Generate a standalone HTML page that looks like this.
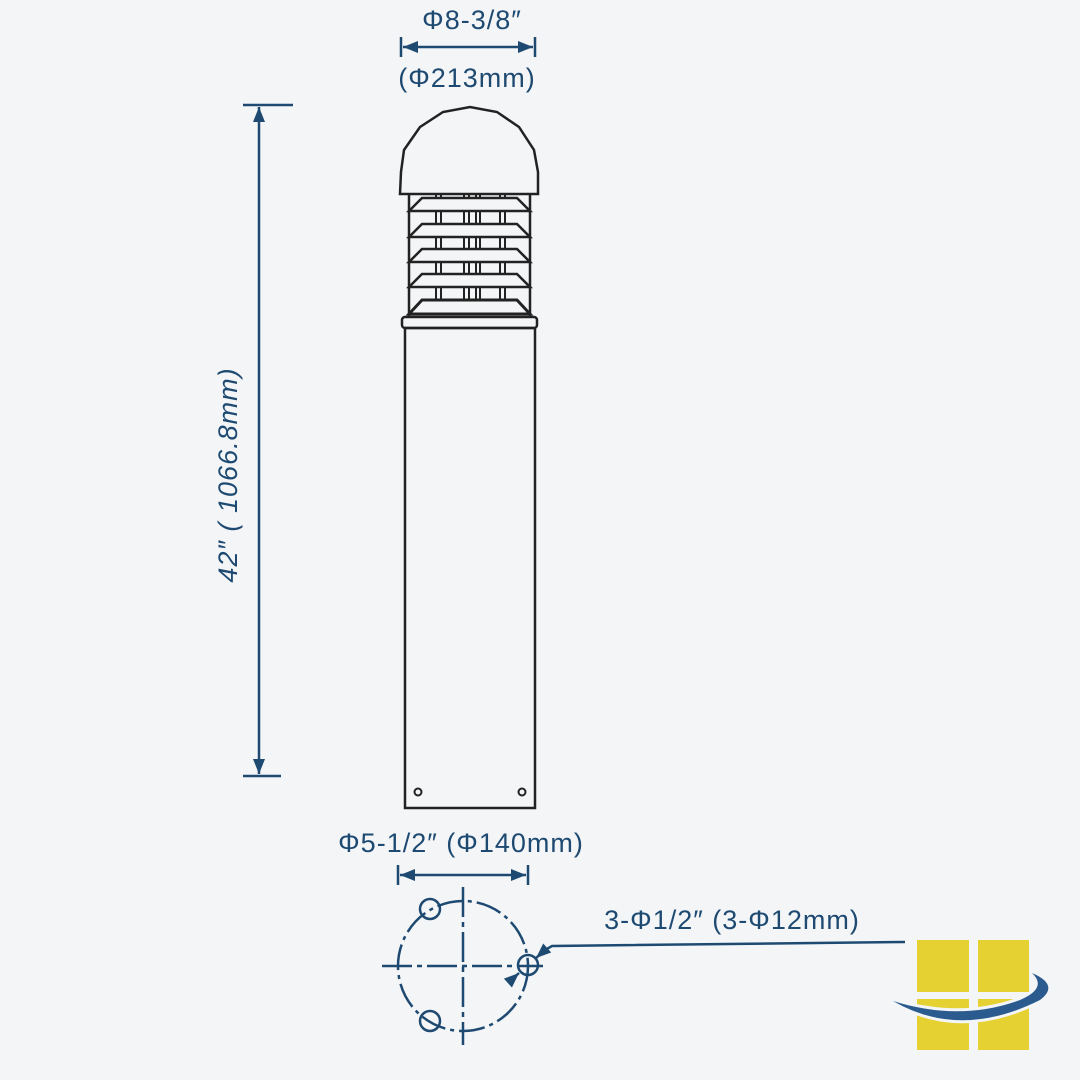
<!DOCTYPE html><html><head><style>body{margin:0;background:#f3f5f7}svg{display:block}text{font-family:"Liberation Sans",sans-serif;fill:#1e4a72;letter-spacing:1px}</style></head><body>
<svg width="1080" height="1080" viewBox="0 0 1080 1080">
<rect width="1080" height="1080" fill="#f3f5f7"/>
<defs><marker id="a" viewBox="0 0 10 10" refX="10" refY="5" markerWidth="9" markerHeight="6" orient="auto-start-reverse"><path d="M0,1L10,5L0,9z" fill="#1e4a72"/></marker></defs>
<g stroke="#1e4a72" stroke-width="2.5" fill="none">
<line x1="401" y1="37" x2="401" y2="57"/><line x1="535" y1="37" x2="535" y2="57"/>
<line x1="403" y1="47" x2="533" y2="47" marker-start="url(#a)" marker-end="url(#a)"/>
<line x1="243" y1="105" x2="293" y2="105"/><line x1="243" y1="776" x2="281" y2="776"/>
<line x1="259" y1="107" x2="259" y2="774" marker-start="url(#a)" marker-end="url(#a)"/>
<line x1="398" y1="865" x2="398" y2="885"/><line x1="528" y1="865" x2="528" y2="885"/>
<line x1="400" y1="875" x2="526" y2="875" marker-start="url(#a)" marker-end="url(#a)"/>
<circle cx="463" cy="966" r="65" stroke-dasharray="26 5 4 5"/>
<line x1="463" y1="887" x2="463" y2="1045" stroke-dasharray="30 5 5 5"/>
<line x1="382" y1="966" x2="543" y2="966" stroke-dasharray="30 5 5 5"/>
<circle cx="430" cy="909" r="10"/><circle cx="430" cy="1021" r="10"/><circle cx="528" cy="965" r="10"/>
<polyline points="905,942 552,946 545,950"/>
<line x1="545" y1="950" x2="536" y2="958" marker-end="url(#a)"/>
<line x1="508" y1="983" x2="519" y2="973" marker-end="url(#a)"/>
</g>
<g stroke="#222" stroke-width="2.5" fill="none">
<path d="M400,194 L401,172 L404,150 L420,127 L443,112 L470,107 L497,112 L519,127 L534,150 L538,172 L538,194 Z" fill="#f3f5f7"/>
<line x1="409" y1="194" x2="409" y2="318"/><line x1="530" y1="194" x2="530" y2="318"/>
<g stroke-width="2">
<path d="M436,194V313M441,194V313M464,194V313M469,194V313M476,194V313M480,194V313M500,194V313M505,194V313"/>
</g>
<path d="M409,211 L422,198 H517 L530,211 Z" fill="#f3f5f7"/>
<path d="M409,237 L422,224 H517 L530,237 Z" fill="#f3f5f7"/>
<path d="M409,262 L422,249 H517 L530,262 Z" fill="#f3f5f7"/>
<path d="M409,287 L422,274 H517 L530,287 Z" fill="#f3f5f7"/>
<path d="M409,314 L422,300 H517 L530,314 Z" fill="#f3f5f7" stroke-width="3"/>
<rect x="402" y="317" width="135" height="11" rx="3" fill="#f3f5f7"/>
<rect x="405" y="328" width="130" height="480"/>
<circle cx="418" cy="792" r="3.5" stroke-width="2"/><circle cx="522" cy="792" r="3.5" stroke-width="2"/>
</g>
<text x="472" y="29" font-size="27" text-anchor="middle">Φ8-3/8″</text>
<text x="467" y="87" font-size="27" text-anchor="middle">(Φ213mm)</text>
<text transform="translate(237,475) rotate(-90)" font-size="27" font-style="italic" text-anchor="middle">42″ ( 1066.8mm)</text>
<text x="461" y="852" font-size="27" text-anchor="middle">Φ5-1/2″ (Φ140mm)</text>
<text x="732" y="929" font-size="27" text-anchor="middle">3-Φ1/2″ (3-Φ12mm)</text>
<g fill="#e5d232">
<rect x="917" y="940" width="52" height="52"/><rect x="978" y="940" width="51" height="52"/>
<rect x="917" y="999" width="52" height="51"/><rect x="978" y="999" width="51" height="51"/>
</g>
<path d="M893,1001 Q960,1040 1040,1000 Q1060,985 1032,973 Q1048,988 1020,1000 Q960,1022 893,1001Z" fill="#f3f5f7" stroke="#f3f5f7" stroke-width="6"/>
<path d="M893,1001 Q960,1040 1040,1000 Q1060,985 1032,973 Q1048,988 1020,1000 Q960,1022 893,1001Z" fill="#2b5b8e"/>
</svg></body></html>
